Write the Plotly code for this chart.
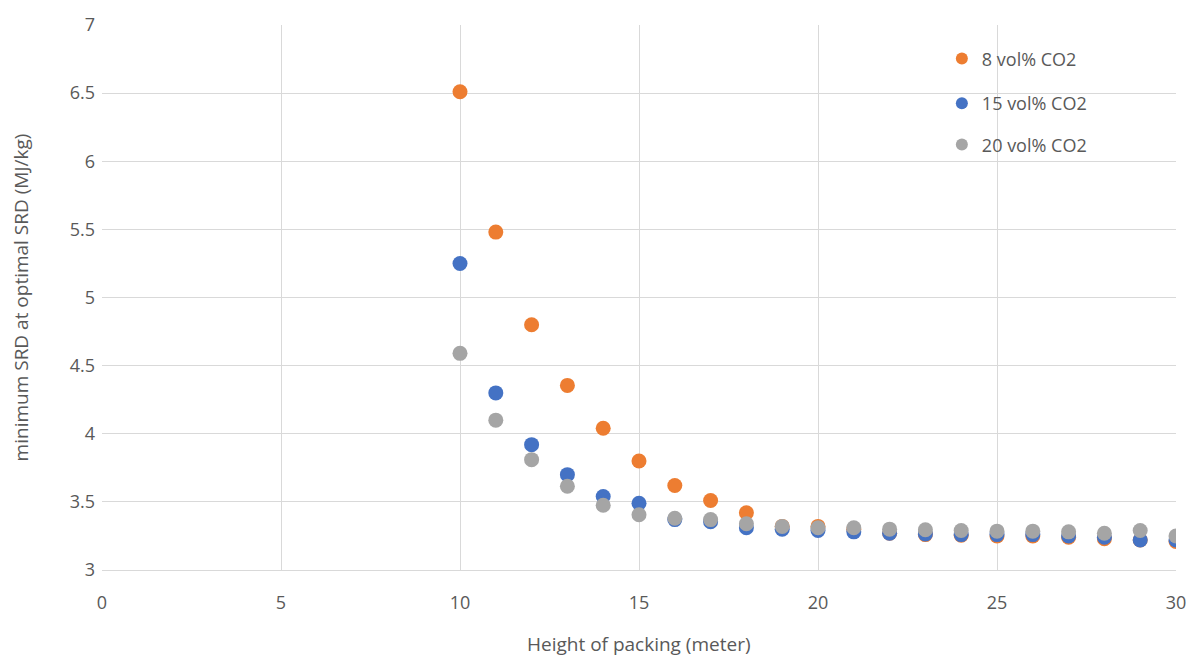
import plotly.graph_objects as go

heights = list(range(10, 31))
srd_8 = [6.51, 5.48, 4.80, 4.355, 4.04, 3.80, 3.62, 3.51, 3.42, 3.32, 3.32, 3.30, 3.27, 3.26, 3.255, 3.25,
         3.25, 3.24, 3.23, 3.22, 3.21]
srd_15 = [5.25, 4.30, 3.92, 3.70, 3.54, 3.49, 3.37, 3.355, 3.31, 3.30, 3.29, 3.28, 3.27, 3.265, 3.26, 3.26,
          3.26, 3.25, 3.24, 3.22, 3.22]
srd_20 = [4.59, 4.10, 3.81, 3.615, 3.475, 3.405, 3.38, 3.37, 3.34, 3.32, 3.31, 3.31, 3.30, 3.295, 3.29, 3.285,
          3.285, 3.28, 3.27, 3.29, 3.25]

names = ["8 vol% CO2", "15 vol% CO2", "20 vol% CO2"]
colors = ["#ED7D31", "#4472C4", "#A5A5A5"]
legend_ids = ["legend", "legend2", "legend3"]
legend_y = [0.938, 0.856, 0.780]
x_title = "Height of packing (meter)"
y_title = "minimum SRD at optimal SRD (MJ/kg)"

font_c = "#595959"
fam = "Open Sans, Liberation Sans, sans-serif"

fig = go.Figure()
for name, ys, c, lid in zip(names, [srd_8, srd_15, srd_20], colors, legend_ids):
    fig.add_trace(go.Scatter(x=heights, y=ys, mode="markers", name=name, legend=lid, showlegend=True,
                             marker=dict(color=c, size=15, line=dict(width=0))))

legend_common = dict(x=0.782, xanchor="left", yanchor="middle", bgcolor="rgba(0,0,0,0)",
                     font=dict(size=18, color=font_c, family=fam), itemsizing="constant")

fig.update_layout(
    width=1203, height=662,
    showlegend=True,
    margin=dict(l=102, r=27, t=18, b=92),
    paper_bgcolor="white", plot_bgcolor="white",
    font=dict(family=fam, color=font_c, size=18),
    xaxis=dict(range=[0, 30], dtick=5, showgrid=True, gridcolor="#d9d9d9", gridwidth=1,
               zeroline=False, showline=True, linecolor="#d9d9d9", mirror=False,
               ticks="", tickfont=dict(size=18, color=font_c), ticklabelstandoff=16),
    yaxis=dict(range=[3, 7], dtick=0.5, showgrid=True, gridcolor="#d9d9d9", gridwidth=1,
               zeroline=False, showline=False, ticks="", tickfont=dict(size=18, color=font_c),
               ticklabelstandoff=6,
               title=dict(text=y_title, font=dict(size=19, color=font_c), standoff=36)),
    legend=dict(y=legend_y[0], **legend_common),
    legend2=dict(y=legend_y[1], **legend_common),
    legend3=dict(y=legend_y[2], **legend_common),
    annotations=[dict(text=x_title, xref="paper", yref="paper", x=0.5, y=-0.136,
                      xanchor="center", yanchor="middle", showarrow=False,
                      font=dict(size=19, color=font_c, family=fam))],
)

fig.write_html("out.html")
